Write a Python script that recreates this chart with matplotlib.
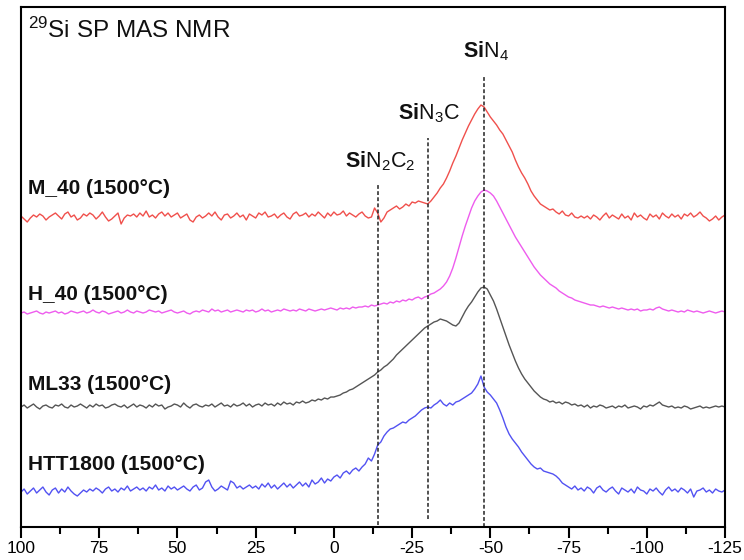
import numpy as np
import matplotlib.pyplot as plt
from matplotlib.ticker import MultipleLocator

plt.rcParams['font.family'] = ['Liberation Sans', 'DejaVu Sans']
plt.rcParams['mathtext.fontset'] = 'custom'
plt.rcParams['mathtext.rm'] = 'Liberation Sans'
plt.rcParams['mathtext.bf'] = 'Liberation Sans:bold'
plt.rcParams['mathtext.it'] = 'Liberation Sans:italic'
plt.rcParams['axes.unicode_minus'] = False

# chemical shift axis (ppm), 1 ppm steps from 100 to -125
ppm = np.arange(100, -126, -1)

# spectra (arbitrary intensity, baseline ~0)
m40 = [2, -1, -4, 0, 3, 1, 4, 2, -2, 1,
       3, 5, 2, -1, 4, 6, 1, 3, -2, 0,
       4, 2, 5, 3, -1, 2, 6, 1, -3, -1,
       2, 5, -6, 0, 3, 2, 4, 1, 5, 2,
       7, 1, 3, 0, 4, 6, 2, 5, 1, 3,
       5, 0, 2, 4, -2, -4, 1, 3, 0, 2,
       5, 2, 6, 1, -2, 3, 4, 0, 2, 5,
       1, 3, -2, 4, 2, 0, 5, 3, 6, 1,
       2, 4, 0, 3, 5, 1, -1, 4, 6, 2,
       3, 5, 1, 4, 2, 6, 3, 0, 5, 2,
       6, 3, 4, 7, 2, 5, 3, 1, 4, 6,
       2, 0, 1, 10, 5, -4, 0, 6, 8, 10,
       12, 9, 11, 14, 12, 16, 15, 17, 16, 15,
       14, 17, 21, 25, 30, 34, 40, 47, 55, 62,
       70, 78, 85, 92, 98, 104, 109, 113, 111, 106,
       101, 97, 93, 88, 84, 78, 72, 66, 58, 51,
       45, 40, 34, 27, 22, 18, 14, 12, 10, 8,
       9, 6, 4, 7, 3, 2, 5, 1, 0, 2,
       0, 2, -1, 3, 1, -2, 2, 5, 0, 3,
       1, -1, 4, 0, 2, -2, 5, 1, 3, 0,
       -2, 4, 1, 3, -1, 5, 2, 0, 4, 1,
       3, -1, 4, 2, 5, 1, 3, 6, 2, 0,
       -3, -1, 2, -2, 1, 3]

h40 = [0, 1, -1, 0, 1, 2, 0, -1, 1, 0,
       1, 2, 0, 1, -1, 0, 2, 1, 0, 1,
       2, 0, 1, 3, 1, 0, 2, 1, -1, 0,
       1, 2, 0, 1, 3, 1, 0, 2, 1, 0,
       1, 3, 2, 1, 2, 0, 1, 2, 3, 1,
       0, 1, 2, 0, -1, 1, 2, 1, 3, 2,
       1, 4, 2, 3, 1, 2, 3, 1, 2, 3,
       2, 1, 3, 2, 3, 1, 2, 4, 2, 3,
       1, 2, 3, 2, 4, 3, 2, 3, 2, 4,
       3, 2, 4, 3, 2, 3, 4, 3, 4, 5,
       4, 3, 5, 4, 5, 4, 6, 5, 6, 6,
       7, 6, 8, 7, 8, 9, 10, 9, 11, 10,
       12, 11, 13, 12, 14, 13, 15, 16, 14, 16,
       17, 19, 20, 22, 24, 27, 31, 37, 45, 55,
       66, 77, 87, 96, 105, 112, 117, 121, 123, 122,
       120, 117, 112, 106, 100, 94, 88, 82, 76, 71,
       66, 61, 56, 51, 46, 42, 38, 35, 32, 29,
       27, 25, 22, 20, 18, 16, 15, 13, 12, 11,
       10, 9, 8, 8, 7, 6, 7, 6, 5, 6,
       5, 4, 5, 4, 3, 4, 3, 4, 2, 3,
       3, 4, 3, 5, 6, 4, 3, 2, 3, 2,
       1, 2, 1, 3, 2, 1, 2, 1, 0, 1,
       2, 1, 0, 1, 2, 1]

ml33 = [0, 2, -1, 1, 3, 0, -2, 1, 2, 0,
        -1, 2, 1, 3, 0, -1, 2, 0, 1, 3,
        1, -1, 2, 0, 3, 1, 2, -1, 0, 2,
        3, 1, 0, 2, -1, 1, 3, 0, 2, 1,
        -1, 2, 0, 3, 1, 2, -2, 0, 1, 3,
        2, 0, 4, 1, -1, 2, 3, 1, 0, 2,
        1, 3, 0, 2, 4, 1, 2, 0, 3, 1,
        2, 4, 1, 3, 0, 2, 3, 1, 4, 2,
        3, 1, 4, 2, 5, 3, 4, 2, 5, 4,
        6, 4, 5, 7, 6, 8, 7, 9, 8, 10,
        10, 11, 12, 14, 15, 17, 18, 20, 22, 24,
        26, 28, 30, 32, 35, 37, 40, 42, 45, 48,
        52, 55, 58, 61, 64, 67, 70, 73, 76, 79,
        81, 83, 85, 86, 88, 87, 86, 84, 82, 81,
        84, 90, 96, 101, 105, 110, 115, 119, 120, 118,
        112, 106, 98, 89, 80, 71, 62, 54, 46, 39,
        33, 28, 24, 20, 16, 13, 10, 8, 7, 5,
        6, 4, 5, 3, 5, 4, 2, 3, 1, 2,
        0, 2, -1, 1, 0, 2, 1, -1, 0, 1,
        -1, 1, 0, 2, -1, 0, 1, 0, -2, 1,
        0, 2, 1, 3, 5, 2, 1, 0, 1, -1,
        0, -1, 1, 0, -2, -1, 0, 1, -1, 0,
        -1, 0, 1, 0, 1, 0]

htt1800 = [0, 3, -2, 1, 4, -1, 2, 5, 0, -3,
           2, 4, -1, 3, 0, 5, 1, -2, -4, -1,
           2, 0, 3, 1, 4, 2, -1, 3, 5, 1,
           3, 0, 4, 2, 6, 1, 3, 5, 2, 4,
           1, 5, 3, 7, 2, 4, 1, 6, 3, 5,
           2, 4, 6, 3, 1, 5, 7, 2, 4, 10,
           12, 5, 1, 3, 6, 4, 2, 11, 9, 4,
           6, 3, 5, 7, 4, 6, 3, 8, 5, 9,
           4, 7, 3, 6, 9, 5, 8, 4, 7, 10,
           6, 9, 5, 12, 8, 10, 14, 9, 13, 11,
           15, 17, 14, 19, 21, 18, 22, 24, 21, 25,
           28, 34, 31, 38, 47, 50, 56, 60, 63, 64,
           66, 68, 70, 69, 72, 74, 76, 79, 82, 84,
           85, 84, 87, 89, 92, 88, 86, 89, 87, 90,
           91, 93, 95, 97, 99, 103, 108, 116, 105, 100,
           97, 93, 89, 82, 74, 65, 58, 53, 49, 45,
           40, 36, 32, 28, 25, 23, 24, 21, 20, 19,
           18, 16, 13, 9, 7, 5, 3, 6, 2, 4,
           1, 5, 3, -1, 4, 6, 2, 0, 3, 5,
           1, -2, 4, 2, 0, 3, -1, 5, 2, 1,
           -2, 3, 1, 4, 0, -3, 2, 5, 1, 3,
           0, 4, 2, -1, 3, -5, 1, 2, 4, 0,
           2, -1, 3, 1, 0, 2]

samples = ['M_40 (1500°C)', 'H_40 (1500°C)', 'ML33 (1500°C)', 'HTT1800 (1500°C)']
spectra = [m40, h40, ml33, htt1800]
offsets = [309, 214, 120, 35]
colors = ['#f0504c', '#ee5cee', '#555555', '#5252f2']

# reference shifts for the Si environments
site_labels = [r'$\mathbf{Si}\mathrm{N}_{2}\mathrm{C}_{2}$',
               r'$\mathbf{Si}\mathrm{N}_{3}\mathrm{C}$',
               r'$\mathbf{Si}\mathrm{N}_{4}$']
site_ppm = [-14, -30, -48]

fig = plt.figure(figsize=(7.44, 5.6), dpi=100)
ax = fig.add_axes([0.0282, 0.0589, 0.9463, 0.9286])

for spec, off, col in zip(spectra, offsets, colors):
    ax.plot(ppm, np.array(spec) + off, color=col, lw=1.0)

# dashed markers
line_tops = [342, 389, 452]
line_bottoms = [2, 8, 0]
for p, t, b in zip(site_ppm, line_tops, line_bottoms):
    ax.plot([p, p], [b, t], color='#222222', lw=1.1, ls=(0, (2.5, 1.5)))

label_x = [-3.5, -20.5, -41.3]
label_y = [360, 408, 470]
for lab, lx, ly in zip(site_labels, label_x, label_y):
    ax.text(lx, ly, lab, fontsize=15.5, ha='left', va='baseline', color='#111111')

sample_y = [333, 227, 137, 57]
for name, sy in zip(samples, sample_y):
    ax.text(97.8, sy, name, fontsize=15, fontweight='bold', ha='left',
            va='baseline', color='#111111')

ax.text(97.8, 489, r'$^{29}$Si SP MAS NMR', fontsize=17.5, ha='left',
        va='baseline', color='#111111')

ax.set_xlim(100, -125)
ax.set_ylim(0, 520)
ax.xaxis.set_major_locator(MultipleLocator(25))
ax.xaxis.set_minor_locator(MultipleLocator(12.5))
ax.tick_params(axis='x', which='major', direction='out', length=8, width=1.5,
               labelsize=12.5, pad=2)
ax.tick_params(axis='x', which='minor', direction='out', length=5, width=1.5)
ax.set_yticks([])
for s in ax.spines.values():
    s.set_linewidth(1.5)

fig.savefig('out.png', dpi=100)
